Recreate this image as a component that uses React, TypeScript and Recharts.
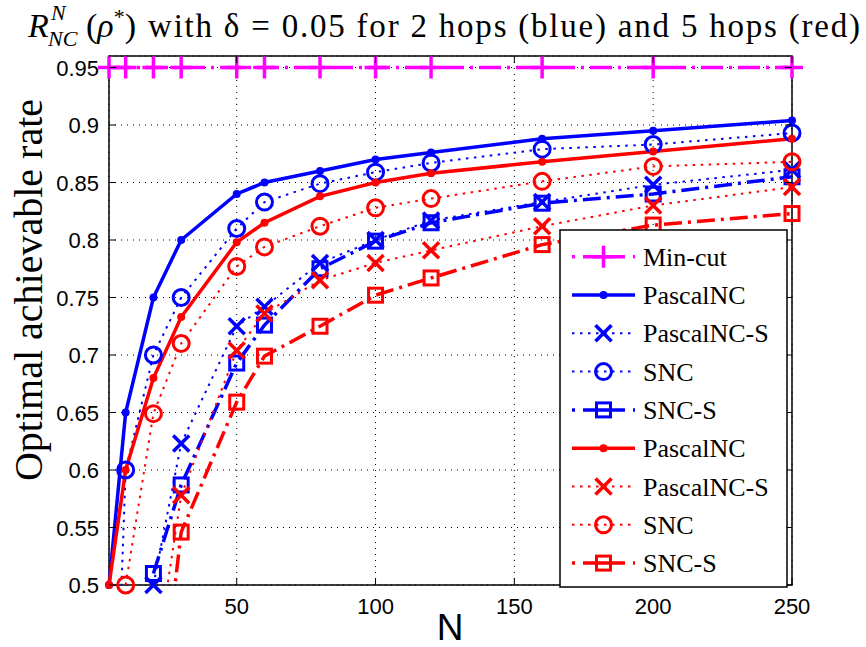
import React from "react";
import { LineChart, Line, XAxis, YAxis, CartesianGrid, ReferenceArea } from "recharts";

// N values (x axis)
const nValues = [4, 10, 20, 30, 50, 60, 80, 100, 120, 160, 200, 250];

// 2 hops (blue)
const minCut = [0.95, 0.95, 0.95, 0.95, 0.95, 0.95, 0.95, 0.95, 0.95, 0.95, 0.95, 0.95];
const bluePascal = [0.5, 0.65, 0.75, 0.8, 0.84, 0.85, 0.86, 0.87, 0.876, 0.888, 0.895, 0.904];
const bluePascalS = [null, null, 0.5, 0.623, 0.725, 0.742, 0.78, 0.8, 0.817, 0.833, 0.848, 0.861];
const blueSnc = [0.2, 0.6, 0.7, 0.75, 0.81, 0.833, 0.849, 0.859, 0.867, 0.879, 0.883, 0.893];
const blueSncS = [null, null, 0.51, 0.587, 0.693, 0.726, 0.775, 0.799, 0.815, 0.832, 0.84, 0.855];

// 5 hops (red)
const redPascal = [0.5, 0.6, 0.68, 0.733, 0.798, 0.815, 0.838, 0.85, 0.858, 0.868, 0.877, 0.888];
const redPascalS = [null, null, 0.42, 0.578, 0.704, 0.736, 0.765, 0.78, 0.791, 0.812, 0.83, 0.846];
const redSnc = [null, 0.5, 0.649, 0.71, 0.777, 0.794, 0.812, 0.828, 0.836, 0.851, 0.864, 0.868];
const redSncS = [null, null, 0.34, 0.546, 0.659, 0.699, 0.725, 0.752, 0.767, 0.796, 0.813, 0.823];

const xTicks = [50, 100, 150, 200, 250];
const yTicks = [0.5, 0.55, 0.6, 0.65, 0.7, 0.75, 0.8, 0.85, 0.9, 0.95];

const BLUE = "#0000ff";
const RED = "#ff0000";
const MAGENTA = "#ff00ff";
const DASHDOT = "18 6 3 6";
const DOTTED = "2.5 5.5";

type Marker = "plus" | "dot" | "x" | "circle" | "square";

const series = [
  { key: "minCut", name: "Min-cut", values: minCut, color: MAGENTA, marker: "plus", dash: "22 6 3 6", width: 3.5 },
  { key: "bluePascal", name: "PascalNC", values: bluePascal, color: BLUE, marker: "dot", dash: undefined, width: 3.5 },
  { key: "bluePascalS", name: "PascalNC-S", values: bluePascalS, color: BLUE, marker: "x", dash: DOTTED, width: 2 },
  { key: "blueSnc", name: "SNC", values: blueSnc, color: BLUE, marker: "circle", dash: DOTTED, width: 2 },
  { key: "blueSncS", name: "SNC-S", values: blueSncS, color: BLUE, marker: "square", dash: DASHDOT, width: 3.5 },
  { key: "redPascal", name: "PascalNC", values: redPascal, color: RED, marker: "dot", dash: undefined, width: 3.5 },
  { key: "redPascalS", name: "PascalNC-S", values: redPascalS, color: RED, marker: "x", dash: DOTTED, width: 2 },
  { key: "redSnc", name: "SNC", values: redSnc, color: RED, marker: "circle", dash: DOTTED, width: 2 },
  { key: "redSncS", name: "SNC-S", values: redSncS, color: RED, marker: "square", dash: DASHDOT, width: 3.5 },
];

const data = nValues.map((n, i) => {
  const row: Record<string, number | null> = { n };
  series.forEach((s) => {
    const v = s.values[i];
    row[s.key] = v;
    // markers outside the axes are not drawn
    row[s.key + "_m"] = v != null && v >= 0.5 ? v : null;
  });
  return row;
});

function drawMarker(kind: Marker, color: string, cx: number, cy: number) {
  switch (kind) {
    case "plus":
      return (
        <g stroke={color} strokeWidth={3.5}>
          <line x1={cx - 11} x2={cx + 11} y1={cy} y2={cy} />
          <line x1={cx} x2={cx} y1={cy - 11} y2={cy + 11} />
        </g>
      );
    case "dot":
      return <circle cx={cx} cy={cy} r={4} fill={color} />;
    case "x":
      return (
        <g stroke={color} strokeWidth={3.5}>
          <line x1={cx - 8} x2={cx + 8} y1={cy - 8} y2={cy + 8} />
          <line x1={cx - 8} x2={cx + 8} y1={cy + 8} y2={cy - 8} />
        </g>
      );
    case "circle":
      return <circle cx={cx} cy={cy} r={8} fill="none" stroke={color} strokeWidth={3} />;
    case "square":
      return <rect x={cx - 7} y={cy - 7} width={14} height={14} fill="none" stroke={color} strokeWidth={3} />;
  }
  return null;
}

const markerDot = (kind: Marker, color: string) => (props: any) => {
  const { cx, cy, value, index } = props;
  if (value == null || cx == null || cy == null || isNaN(cy)) return <g key={index} />;
  return <g key={index}>{drawMarker(kind, color, cx, cy)}</g>;
};

const PLOT_TOP = 56;
const PLOT_BOTTOM = 585;
const PLOT_LEFT = 109;
const PLOT_RIGHT = 792;
const SANS = "'Liberation Sans', Arial, sans-serif";
const SERIF = "'Liberation Serif', 'Times New Roman', serif";

const YTick = (props: any) => {
  const { y, payload } = props;
  return (
    <g>
      <text x={PLOT_LEFT - 10} y={y} dy={8} textAnchor="end" fontFamily={SANS} fontSize={22} fill="#000">
        {payload.value}
      </text>
      <line x1={PLOT_LEFT} x2={PLOT_LEFT + 7} y1={y} y2={y} stroke="#000" />
      <line x1={PLOT_RIGHT} x2={PLOT_RIGHT - 7} y1={y} y2={y} stroke="#000" />
    </g>
  );
};

const XTick = (props: any) => {
  const { x, payload } = props;
  return (
    <g>
      <text x={x} y={PLOT_BOTTOM + 13} dy={16} textAnchor="middle" fontFamily={SANS} fontSize={22} fill="#000">
        {payload.value}
      </text>
      <line x1={x} x2={x} y1={PLOT_BOTTOM} y2={PLOT_BOTTOM - 7} stroke="#000" />
      <line x1={x} x2={x} y1={PLOT_TOP} y2={PLOT_TOP + 7} stroke="#000" />
    </g>
  );
};

function LegendSample({ s, y }: { s: (typeof series)[number]; y: number }) {
  let dash: string | undefined;
  if (s.dash === DOTTED) dash = "2.5 5.5";
  else if (s.dash) dash = "3 8 42 8 3";
  return (
    <g>
      <line x1={572} x2={635} y1={y} y2={y} stroke={s.color} strokeWidth={s.width} strokeDasharray={dash} />
      {drawMarker(s.marker as Marker, s.color, 603.5, y)}
      <text x={643} y={y + 9} fontFamily={SERIF} fontSize={26} fill="#000">
        {s.name}
      </text>
    </g>
  );
}

export default function App() {
  return (
    <div style={{ position: "absolute", left: 0, top: 0, width: 866, height: 647, background: "#fff" }}>
      <LineChart width={866} height={647} data={data} margin={{ top: PLOT_TOP, right: 866 - PLOT_RIGHT, bottom: 0, left: 0 }}>
        <XAxis
          dataKey="n"
          type="number"
          domain={[4, 250]}
          ticks={xTicks}
          interval={0}
          height={647 - PLOT_BOTTOM}
          tickSize={0}
          tickMargin={13}
          axisLine={false}
          tick={XTick}
        />
        <YAxis
          yAxisId="y"
          type="number"
          domain={[0.5, 0.96]}
          allowDataOverflow
          ticks={yTicks}
          interval={0}
          width={PLOT_LEFT}
          tickSize={0}
          tickMargin={9}
          axisLine={false}
          tick={YTick}
        />
        <YAxis yAxisId="m" orientation="right" width={0} type="number" domain={[0.5, 0.96]} hide />
        <CartesianGrid yAxisId="y" stroke="#000" strokeDasharray="1 5" strokeWidth={1} />
        <ReferenceArea yAxisId="y" x1={4} x2={250} y1={0.5} y2={0.96} fill="none" stroke="#000" strokeWidth={1.5} />
        {series.flatMap((s) => [
          <Line
            key={s.key}
            yAxisId="y"
            dataKey={s.key}
            type="linear"
            stroke={s.color}
            strokeWidth={s.width}
            strokeDasharray={s.dash}
            dot={false}
            activeDot={false}
            legendType="none"
            isAnimationActive={false}
          />,
          <Line
            key={s.key + "_m"}
            yAxisId="m"
            dataKey={s.key + "_m"}
            type="linear"
            stroke="none"
            dot={markerDot(s.marker as Marker, s.color)}
            activeDot={false}
            legendType="none"
            isAnimationActive={false}
          />,
        ])}
      </LineChart>
      <svg width={866} height={647} style={{ position: "absolute", left: 0, top: 0, pointerEvents: "none" }}>
        <text x={28} y={37} fontFamily={SERIF} fontSize={34} fontStyle="italic">R</text>
        <text x={51} y={20} fontFamily={SERIF} fontSize={22} fontStyle="italic">N</text>
        <text x={48} y={46} fontFamily={SERIF} fontSize={22} fontStyle="italic">NC</text>
        <text x={86} y={37} fontFamily={SERIF} fontSize={34}>
          (<tspan fontStyle="italic">ρ</tspan>
          <tspan dy={-13} fontSize={22}>*</tspan>
          <tspan dy={13}>)</tspan>
        </text>
        <text x={148} y={37} fontFamily={SERIF} fontSize={33} textLength={712} lengthAdjust="spacing">
          with δ = 0.05 for 2 hops (blue) and 5 hops (red)
        </text>
        <text transform="translate(42,290) rotate(-90)" textAnchor="middle" fontFamily={SERIF} fontSize={40}>
          Optimal achievable rate
        </text>
        <text x={450} y={640} textAnchor="middle" fontFamily={SANS} fontSize={37}>
          N
        </text>
        <rect x={560} y={230} width={227} height={357} fill="#fff" stroke="#000" strokeWidth={1.5} />
        {series.map((s, i) => (
          <LegendSample key={s.key} s={s} y={256.7 + 38.3 * i} />
        ))}
      </svg>
    </div>
  );
}
